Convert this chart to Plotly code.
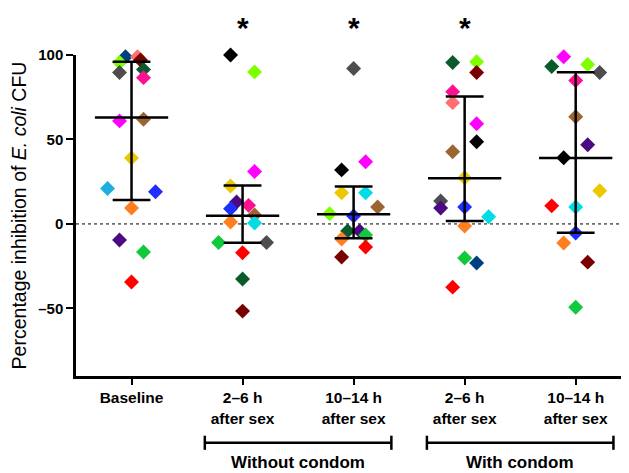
import plotly.graph_objects as go

# ---------------- data ----------------
groups = ["Baseline", "2–6 h<br>after sex", "10–14 h<br>after sex",
          "2–6 h<br>after sex", "10–14 h<br>after sex"]

subject_colors = {
    "black": "#000000", "lime": "#7fff00", "magenta": "#ff00ff", "gold": "#ecc800",
    "purple": "#4b0a82", "blue": "#1f2fff", "pink": "#ff1090", "brown": "#9b6430",
    "orange": "#ff7f20", "cyan": "#00dde6", "green": "#12c83c", "gray": "#4d4d4d",
    "red": "#ff0000", "dkgreen": "#0b5a2c", "maroon": "#780000", "salmon": "#ff6f6f",
    "navy": "#003f7f", "sky": "#1eaee0",
}

g0_subj = ["navy", "salmon", "maroon", "lime", "gray", "dkgreen", "pink", "magenta", "brown",
           "gold", "sky", "blue", "orange", "purple", "green", "red"]
g0_vals = [99, 99, 97, 95.5, 89.6, 91.4, 86.6, 61, 62, 39, 21, 19, 9.5, -9.5, -16.6, -34.4]
g0_cols = [-0.5, 0.5, 0.75, -1, -1, 1, 1, -1, 1, 0, -2, 2, 0, -1, 1, 0]

g1_subj = ["black", "lime", "magenta", "gold", "purple", "blue", "pink", "brown", "orange",
           "cyan", "green", "gray", "red", "dkgreen", "maroon"]
g1_vals = [100, 90, 31, 22.5, 13, 9, 11, 5.3, 1.2, 0.6, -11, -11, -17, -32.6, -51.6]
g1_cols = [-1, 1, 1, -1, -0.5, -1, 0.5, 1, -1, 1, -2, 2, 0, 0, 0]

g2_subj = ["gray", "magenta", "black", "gold", "cyan", "brown", "lime", "blue", "dkgreen",
           "purple", "green", "orange", "red", "maroon"]
g2_vals = [92, 36.8, 32, 18.4, 18.4, 10, 6, 4.7, -4.2, -4.2, -6.5, -8.9, -13.6, -19.6]
g2_cols = [0, 1, -1, -1, 1, 2, -2, 0, -0.5, 0.5, 1, -1, 1, -1]

g3_subj = ["dkgreen", "lime", "maroon", "pink", "salmon", "magenta", "black", "brown", "gold",
           "gray", "purple", "blue", "cyan", "orange", "green", "navy", "red"]
g3_vals = [95.5, 96, 89.6, 78.3, 71.8, 59.3, 48.7, 42.7, 27.3, 13.6, 9.5, 10, 4.2, -1.2,
           -20.2, -23.1, -37.4]
g3_cols = [-1, 1, 1, -1, -1, 1, 1, -1, 0, -2, -2, 0, 2, 0, 0, 1, -1]

g4_subj = ["magenta", "dkgreen", "lime", "gray", "pink", "brown", "purple", "black", "gold",
           "red", "cyan", "blue", "orange", "maroon", "green"]
g4_vals = [99, 93.2, 94.4, 89.6, 84.9, 63.5, 46.9, 39.2, 19.6, 10.7, 10, -5.3, -11.3, -22.6, -49.3]
g4_cols = [-1, -2, 1, 2, 0, 0, 1, -1, 2, -2, 0, 0, -1, 1, 0]

medians = [63, 4.9, 5.8, 27.1, 39]
q1 = [14.2, -11.1, -8.5, 1.8, -5.2]
q3 = [96, 22.7, 22.1, 75.5, 89.8]

significant = [False, True, True, True, False]

bracket_labels = ["Without condom", "With condom"]
bracket_groups = [(1, 2), (3, 4)]

yticks = [-50, 0, 50, 100]

# ---------------- figure ----------------
COL_STEP = 0.108
FONT = "Liberation Sans, Arial, Helvetica, sans-serif"
fig = go.Figure()

all_groups = [(g0_subj, g0_vals, g0_cols), (g1_subj, g1_vals, g1_cols),
              (g2_subj, g2_vals, g2_cols), (g3_subj, g3_vals, g3_cols),
              (g4_subj, g4_vals, g4_cols)]

for gi, (subj, vals, cols) in enumerate(all_groups):
    fig.add_trace(go.Scatter(
        x=[gi + c * COL_STEP for c in cols], y=vals, mode="markers", cliponaxis=False,
        marker=dict(symbol="diamond", size=11.5, color=[subject_colors[s] for s in subj],
                    line=dict(width=0)),
        showlegend=False, hoverinfo="y"))

# zero reference line
fig.add_shape(type="line", xref="paper", x0=0, x1=1, yref="y", y0=0, y1=0,
              line=dict(color="black", width=1, dash="dot"), layer="below")

# median + interquartile bars
for gi in range(len(groups)):
    fig.add_trace(go.Scatter(
        x=[gi - 0.33, gi + 0.33], y=[medians[gi], medians[gi]], mode="lines",
        line=dict(color="black", width=2.5), showlegend=False, hoverinfo="skip"))
    fig.add_trace(go.Scatter(
        x=[gi - 0.17, gi + 0.17], y=[q1[gi], q1[gi]], mode="lines",
        line=dict(color="black", width=2.5), showlegend=False, hoverinfo="skip"))
    fig.add_trace(go.Scatter(
        x=[gi - 0.17, gi + 0.17], y=[q3[gi], q3[gi]], mode="lines",
        line=dict(color="black", width=2.5), showlegend=False, hoverinfo="skip"))
    fig.add_trace(go.Scatter(
        x=[gi, gi], y=[q1[gi], q3[gi]], mode="lines",
        line=dict(color="black", width=2.5), showlegend=False, hoverinfo="skip"))

# asterisks
for gi, sig in enumerate(significant):
    if sig:
        fig.add_annotation(x=gi, xref="x", y=1.085, yref="paper", text="<b>*</b>",
                           showarrow=False, font=dict(size=30, color="black", family=FONT),
                           yanchor="middle")

# brackets under the axis
BR_Y = -0.208
for label, (a, b) in zip(bracket_labels, bracket_groups):
    x0, x1 = a - 0.34, b + 0.34
    fig.add_shape(type="line", xref="x", yref="paper", x0=x0, x1=x1, y0=BR_Y, y1=BR_Y,
                  line=dict(color="black", width=2.5))
    for xe in (x0, x1):
        fig.add_shape(type="line", xref="x", yref="paper", x0=xe, x1=xe,
                      y0=BR_Y - 0.022, y1=BR_Y + 0.022, line=dict(color="black", width=2.5))
    fig.add_annotation(x=(a + b) / 2, xref="x", y=-0.268, yref="paper",
                       text=f"<b>{label}</b>", showarrow=False, yanchor="middle",
                       font=dict(size=17, color="black", family=FONT))

# page body has an 8px default margin, so the figure is shrunk by that amount
fig.update_layout(
    width=621, height=465,
    margin=dict(l=68, r=0, t=47, b=97),
    plot_bgcolor="white", paper_bgcolor="white",
    font=dict(family=FONT, color="black"),
    xaxis=dict(
        range=[-0.5, 4.48], tickmode="array", tickvals=list(range(len(groups))),
        ticktext=[f"<b>{g}</b>" for g in groups], tickfont=dict(size=15.5),
        showline=True, linecolor="black", linewidth=2.5, ticks="outside", ticklen=6,
        tickwidth=2, tickcolor="black", showgrid=False, zeroline=False, fixedrange=True,
    ),
    yaxis=dict(
        range=[-90, 100], tickmode="array", tickvals=yticks,
        ticktext=[f"<b>{v}</b>".replace("-", "–") for v in yticks], tickfont=dict(size=15),
        showline=True, linecolor="black", linewidth=2.5, ticks="outside", ticklen=7,
        tickwidth=2, tickcolor="black", showgrid=False, zeroline=False,
        title=dict(text="Percentage inhibition of <i>E. coli</i> CFU",
                   font=dict(size=19.5), standoff=10),
    ),
)

fig.write_html("out.html")
